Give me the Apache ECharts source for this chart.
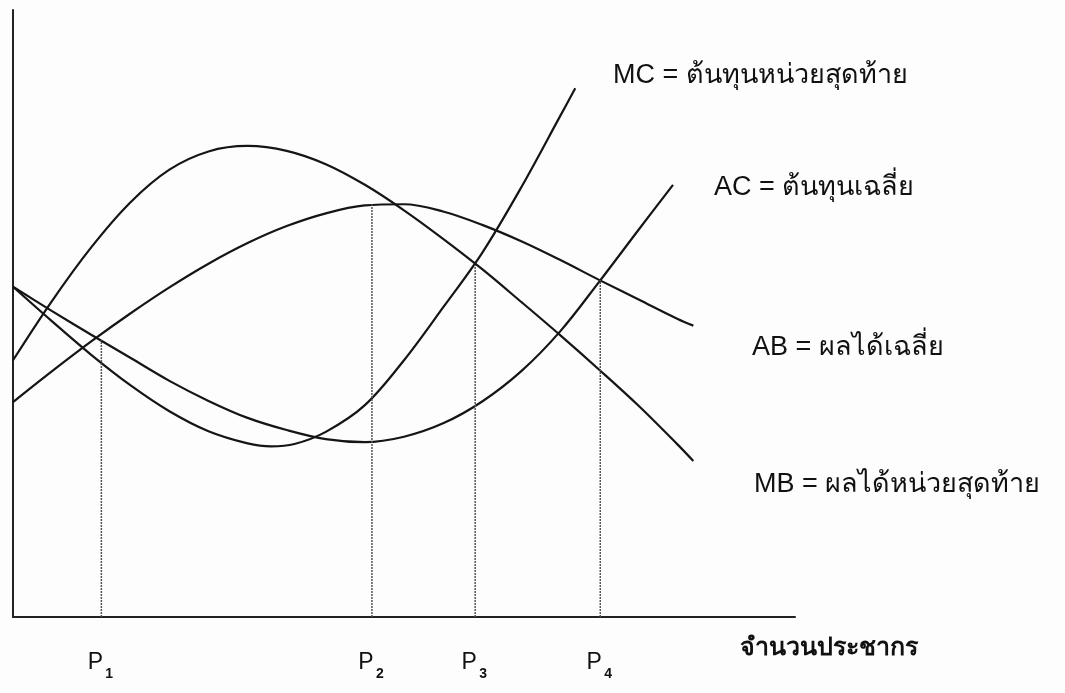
<!DOCTYPE html>
<html>
<head>
<meta charset="utf-8">
<script src="https://cdn.jsdelivr.net/npm/echarts@6/dist/echarts.min.js"></script>
<style>
html, body { margin: 0; padding: 0; background: #fdfdfd; }
#main { width: 1065px; height: 693px; }
</style>
</head>
<body>
<div id="main"></div>
<script>
// curve values, x = population, y = cost / benefit (both 0-100)
var mcData = [[0, 54.4], [5, 48.7], [10, 43.2], [15, 38.2], [20, 33.9], [25, 30.6], [30, 28.6],
  [33, 28.1], [36, 28.5], [40, 30.5], [45, 34.9], [50, 42.3], [55, 51.0], [60, 60.0],
  [65, 70.8], [70, 82.6], [71.9, 87.1]];
var acData = [[0, 54.4], [5, 50.4], [10, 46.5], [15, 42.7], [20, 38.9], [25, 35.6], [30, 32.8],
  [35, 30.8], [40, 29.3], [45, 28.8], [50, 29.7], [55, 31.9], [60, 35.5], [65, 40.5],
  [70, 47.1], [75, 55.3], [80, 63.8], [84.4, 71.2]];
var abData = [[0, 35.4], [5, 40.5], [10, 45.4], [15, 50.0], [20, 54.3], [25, 58.2], [30, 61.6],
  [35, 64.4], [40, 66.5], [45, 67.8], [50, 68.0], [55, 66.8], [60, 64.6], [65, 61.9],
  [70, 58.8], [75, 55.5], [80, 52.3], [85, 49.1], [87, 48.0]];
var mbData = [[0, 42.3], [5, 52.1], [10, 60.9], [15, 68.3], [20, 73.7], [25, 76.7], [30, 77.6],
  [35, 76.8], [40, 74.6], [45, 71.2], [50, 67.0], [55, 62.3], [60, 57.3], [65, 51.9],
  [70, 46.4], [75, 40.7], [80, 34.8], [85, 28.4], [87, 25.7]];

// P1..P4 drop lines
var pSub = ['1', '2', '3', '4'];
var pX = [11.3, 45.9, 59.1, 75.1];
var pTop = [45.6, 68.0, 58.0, 55.5];

var curveNames = ['MC', 'AC', 'AB', 'MB'];
var curveText = ['MC = ต้นทุนหน่วยสุดท้าย', 'AC = ต้นทุนเฉลี่ย', 'AB = ผลได้เฉลี่ย', 'MB = ผลได้หน่วยสุดท้าย'];
var xTitle = 'จำนวนประชากร';

var chart = echarts.init(document.getElementById('main'));
var font = "'Liberation Sans', Arial, 'Noto Sans', sans-serif";

var curves = [mcData, acData, abData, mbData];
var series = [];
curves.forEach(function (d, i) {
  series.push({
    name: curveNames[i],
    type: 'line',
    data: d,
    smooth: 0.35,
    showSymbol: false,
    silent: true,
    lineStyle: { color: '#151515', width: 2.2 }
  });
});
// dotted drop lines, subscript of P_i hangs off the foot point
pX.forEach(function (x, i) {
  series.push({
    name: 'P' + pSub[i],
    type: 'line',
    data: [
      { value: [x, 0], label: { show: true } },
      [x, pTop[i]]
    ],
    symbol: 'circle',
    symbolSize: 0,
    silent: true,
    label: {
      show: false,
      position: [4, 50],
      formatter: pSub[i],
      fontFamily: font,
      fontSize: 14,
      fontWeight: 'bold',
      color: '#111'
    },
    lineStyle: { color: '#555', width: 1.5, type: [2, 1] }
  });
});

var labelPos = [[613, 62], [714, 174], [752, 334], [754, 471]];

chart.setOption({
  animation: false,
  backgroundColor: '#fdfdfd',
  grid: { left: 13, right: 270, top: 10, bottom: 76 },
  xAxis: {
    type: 'value',
    min: 0,
    max: 100,
    axisLine: { lineStyle: { color: '#222', width: 2 } },
    axisTick: { show: false },
    splitLine: { show: false },
    axisLabel: {
      customValues: pX,
      margin: 34,
      padding: [0, 12, 0, 0],
      fontFamily: font,
      fontSize: 23,
      color: '#111',
      formatter: function () { return 'P'; }
    }
  },
  yAxis: {
    type: 'value',
    min: 0,
    max: 100,
    axisLine: { show: true, lineStyle: { color: '#222', width: 2 } },
    axisTick: { show: false },
    axisLabel: { show: false },
    splitLine: { show: false }
  },
  graphic: curveText.map(function (t, i) {
    return {
      type: 'text',
      left: labelPos[i][0],
      top: labelPos[i][1],
      style: { text: t, fontFamily: font, fontSize: 27, fill: '#111' }
    };
  }).concat([{
    type: 'text',
    left: 740,
    top: 636,
    style: { text: xTitle, fontFamily: font, fontSize: 25, fontWeight: 'bold', fill: '#111' }
  }]),
  series: series
});
</script>
</body>
</html>
